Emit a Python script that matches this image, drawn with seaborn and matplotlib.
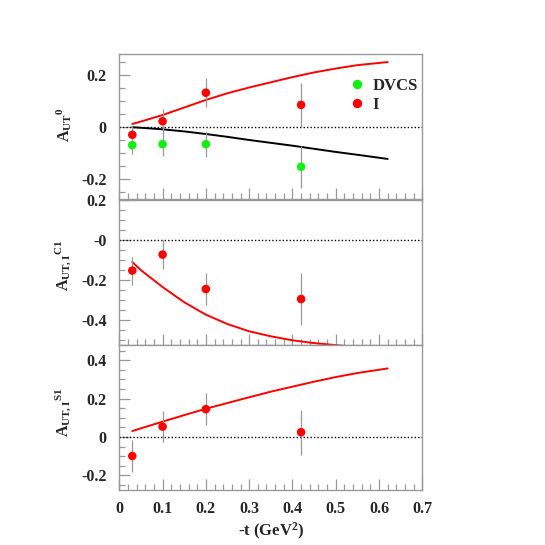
import numpy as np
import pandas as pd
import matplotlib
matplotlib.use("Agg")
import matplotlib.pyplot as plt
from matplotlib.ticker import MultipleLocator, FixedLocator, FixedFormatter
from matplotlib.lines import Line2D
import seaborn as sns

# ---------------- data ----------------
t_pts = [0.03, 0.1, 0.2, 0.42]
dvcs_0 = [-0.069, -0.065, -0.065, -0.152]
dvcs_0_err = [0.035, 0.046, 0.050, 0.081]
int_0 = [-0.029, 0.023, 0.133, 0.086]
int_0_err = [0.035, 0.046, 0.055, 0.086]
int_c1 = [-0.155, -0.075, -0.247, -0.297]
int_c1_err = [0.070, 0.072, 0.082, 0.130]
int_s1 = [-0.099, 0.054, 0.145, 0.025]
int_s1_err = [0.082, 0.082, 0.083, 0.117]

curve_t = [0.03, 0.05, 0.1, 0.15, 0.2, 0.25, 0.3, 0.35, 0.4, 0.45, 0.5, 0.55, 0.62]
curve_int_0 = [0.0127, 0.022, 0.047, 0.076, 0.105, 0.131, 0.153, 0.173, 0.193, 0.211, 0.226, 0.239, 0.251]
curve_dvcs_0 = [0.0, -0.002, -0.008, -0.016, -0.026, -0.037, -0.049, -0.060, -0.071, -0.083, -0.095, -0.106, -0.122]
curve_c1 = [-0.112, -0.153, -0.237, -0.313, -0.375, -0.422, -0.458, -0.483, -0.503, -0.517, -0.527, -0.537, -0.550]
curve_s1 = [0.031, 0.045, 0.080, 0.114, 0.147, 0.177, 0.207, 0.236, 0.262, 0.288, 0.312, 0.333, 0.357]

x_ticks = [0, 0.1, 0.2, 0.3, 0.4, 0.5, 0.6, 0.7]
x_ticklabels = ["0", "0.1", "0.2", "0.3", "0.4", "0.5", "0.6", "0.7"]
y1_ticks, y1_labels = [-0.2, 0, 0.2], ["-0.2", "0", "0.2"]
y2_ticks, y2_labels = [-0.4, -0.2, 0, 0.2], ["-0.4", "-0.2", "-0", "0.2"]
y3_ticks, y3_labels = [-0.2, 0, 0.2, 0.4], ["-0.2", "0", "0.2", "0.4"]

ylabels = [r"$A_{UT}{}^{0}$", r"$A_{UT,I}{}^{C1}$", r"$A_{UT,I}{}^{S1}$"]
xlabel = r"-t (GeV$^{2}$)"
legend_labels = ["DVCS", "I"]

RED = "#ff0000"
GREEN = "#11ee11"
GREY = "#999999"

# ---------------- style ----------------
sns.set_style("ticks")
plt.rcParams["font.family"] = ["Liberation Serif", "DejaVu Serif"]
plt.rcParams["font.weight"] = "bold"
plt.rcParams["mathtext.fontset"] = "custom"
plt.rcParams["mathtext.rm"] = "Liberation Serif:bold"
plt.rcParams["mathtext.it"] = "Liberation Serif:bold"
plt.rcParams["mathtext.bf"] = "Liberation Serif:bold"
plt.rcParams["lines.solid_joinstyle"] = "round"

fig = plt.figure(figsize=(5.45, 5.45), dpi=100)
left, right = 119.3 / 545, 422.3 / 545
tops = [54, 199.5, 345]
h = 145.2
axes = []
for tp in tops:
    ax = fig.add_axes([left, 1 - (tp + h) / 545, right - left, h / 545])
    axes.append(ax)

ylims = [(-0.277, 0.282), (-0.525, 0.2), (-0.277, 0.479)]
yticks = [(y1_ticks, y1_labels), (y2_ticks, y2_labels), (y3_ticks, y3_labels)]
label_y = [0.51, 0.545, 0.54]


def draw_points(ax, y, err, color):
    ax.errorbar(t_pts, y, yerr=err, fmt="none", ecolor=GREY, elinewidth=0.9, zorder=2)
    sns.scatterplot(x=t_pts, y=y, ax=ax, color=color, s=38, edgecolor="none",
                    zorder=3, legend=False)


for i, ax in enumerate(axes):
    ax.set_xlim(0, 0.7)
    ax.set_ylim(*ylims[i])
    ax.axhline(0, color="black", lw=1.0, ls=(0, (1, 1.5)), zorder=1)

# panel 1
sns.lineplot(x=curve_t, y=curve_int_0, ax=axes[0], color=RED, lw=1.4, zorder=2)
sns.lineplot(x=curve_t, y=curve_dvcs_0, ax=axes[0], color="black", lw=1.4, zorder=2)
draw_points(axes[0], dvcs_0, dvcs_0_err, GREEN)
draw_points(axes[0], int_0, int_0_err, RED)
# panel 2
sns.lineplot(x=curve_t, y=curve_c1, ax=axes[1], color=RED, lw=1.4, zorder=2)
draw_points(axes[1], int_c1, int_c1_err, RED)
# panel 3
sns.lineplot(x=curve_t, y=curve_s1, ax=axes[2], color=RED, lw=1.4, zorder=2)
draw_points(axes[2], int_s1, int_s1_err, RED)

# legend
handles = [Line2D([], [], marker="o", ls="none", color=GREEN, markersize=6.8, markeredgewidth=0),
           Line2D([], [], marker="o", ls="none", color=RED, markersize=6.8, markeredgewidth=0)]
axes[0].legend(handles, legend_labels, loc="upper left", bbox_to_anchor=(0.725, 0.895),
               frameon=False, handletextpad=0.3, labelspacing=0.2, borderpad=0,
               handlelength=1.2, prop={"family": "Liberation Serif", "weight": "bold", "size": 12})

for i, ax in enumerate(axes):
    for sp in ax.spines.values():
        sp.set_visible(True)
        sp.set_color(GREY)
        sp.set_linewidth(1.0)
    ax.xaxis.set_major_locator(FixedLocator(x_ticks))
    ax.xaxis.set_minor_locator(MultipleLocator(0.02))
    ax.yaxis.set_major_locator(FixedLocator(yticks[i][0]))
    ax.yaxis.set_major_formatter(FixedFormatter(yticks[i][1]))
    ax.yaxis.set_minor_locator(MultipleLocator(0.05))
    ax.tick_params(axis="both", which="both", direction="in", color=GREY,
                   top=False, right=False, width=0.9)
    ax.tick_params(axis="both", which="major", length=8)
    ax.tick_params(axis="both", which="minor", length=4)
    ax.tick_params(axis="y", which="major", pad=9, labelsize=11.5)
    ax.tick_params(axis="x", which="major", pad=8, labelsize=11.5)
    for lab in ax.get_yticklabels() + ax.get_xticklabels():
        lab.set_fontweight("bold")
    ax.set_xlabel("")
    ax.set_ylabel(ylabels[i], fontsize=11.5)
    ax.yaxis.set_label_coords(-0.150, label_y[i])
    if i < 2:
        ax.xaxis.set_major_formatter(FixedFormatter([""] * len(x_ticks)))
    else:
        ax.xaxis.set_major_formatter(FixedFormatter(x_ticklabels))

fig.text(271 / 545, 1 - 531 / 545, xlabel, ha="center", va="center",
         fontsize=12, fontweight="bold")

fig.savefig("out.png", dpi=100, facecolor="white")
